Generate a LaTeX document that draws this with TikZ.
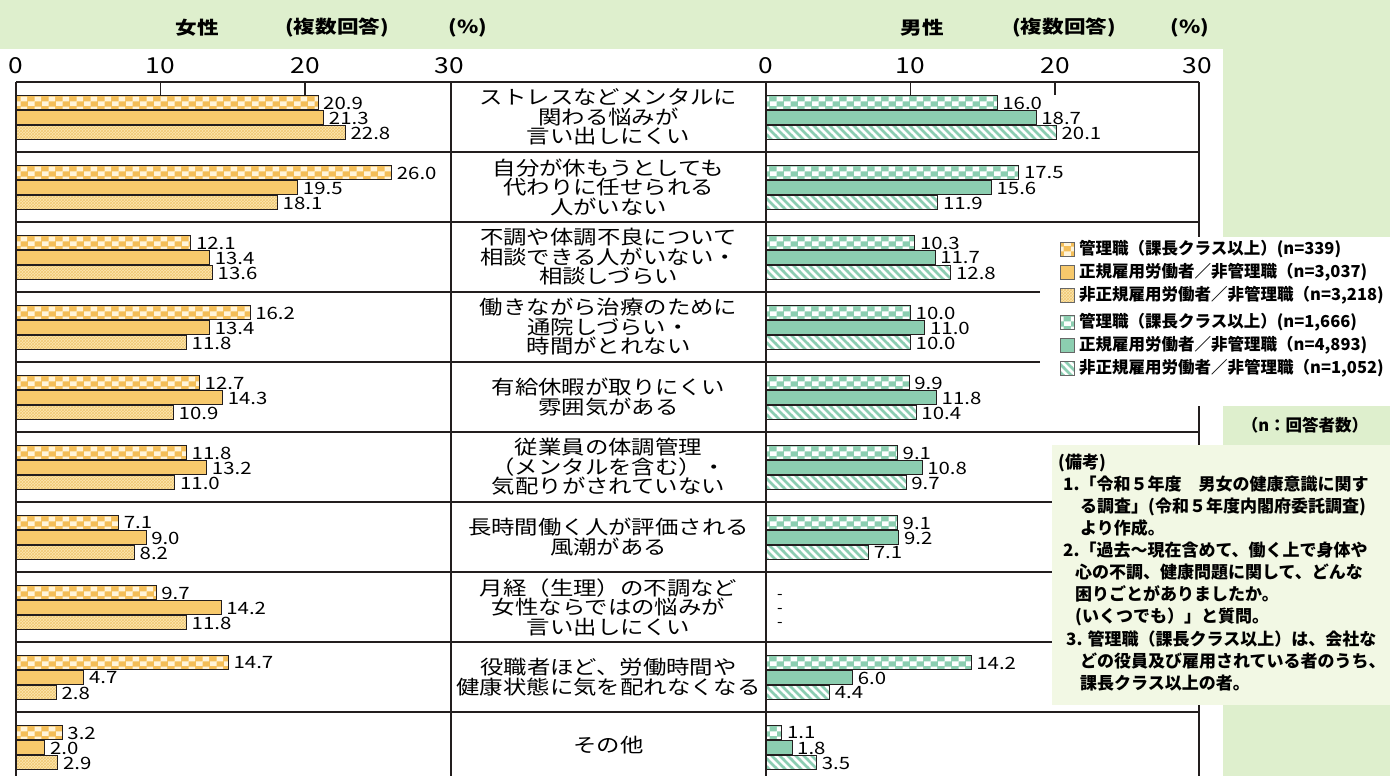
\documentclass[tikz,border=0pt]{standalone}
\usepackage{fontspec}
\setmainfont{Noto Sans CJK JP}
\newfontfamily\jpw[FakeStretch=1.2]{Noto Sans CJK JP}
\usetikzlibrary{patterns}

\definecolor{bgG}{RGB}{222,239,205}
\definecolor{noteG}{RGB}{242,248,228}
\definecolor{orS}{RGB}{247,201,108}
\definecolor{orC}{RGB}{244,190,88}
\definecolor{orW}{RGB}{255,244,218}
\definecolor{orL}{RGB}{252,230,175}
\definecolor{orH}{RGB}{240,200,115}
\definecolor{grS}{RGB}{140,206,176}
\definecolor{grC}{RGB}{140,206,176}
\definecolor{grH}{RGB}{140,205,178}
\definecolor{lineK}{RGB}{35,30,30}

\pgfdeclarepatternformonly{chkA}{\pgfqpoint{0pt}{0pt}}{\pgfqpoint{14pt}{10pt}}{\pgfqpoint{14pt}{10pt}}{%
  \pgfpathrectangle{\pgfqpoint{0pt}{0pt}}{\pgfqpoint{7pt}{5pt}}%
  \pgfpathrectangle{\pgfqpoint{7pt}{5pt}}{\pgfqpoint{7pt}{5pt}}%
  \pgfusepath{fill}}
\pgfdeclarepatternformonly{stripeNW}{\pgfqpoint{-1pt}{-1pt}}{\pgfqpoint{9pt}{9pt}}{\pgfqpoint{8pt}{8pt}}{%
  \pgfsetlinewidth{2.6pt}%
  \pgfpathmoveto{\pgfqpoint{-1pt}{9pt}}\pgfpathlineto{\pgfqpoint{9pt}{-1pt}}%
  \pgfusepath{stroke}}

\begin{document}
\begin{tikzpicture}[x=1pt,y=-1pt,
  boxline/.style={draw=lineK,line width=1.3pt},
  barFa/.style={draw=lineK,line width=1pt,preaction={fill=orC},pattern=chkA,pattern color=orW},
  barFb/.style={draw=lineK,line width=1pt,fill=orS},
  barFc/.style={draw=lineK,line width=1pt,preaction={fill=orL},pattern=crosshatch,pattern color=orH},
  barMa/.style={draw=lineK,line width=1pt,preaction={fill=grC},pattern=chkA,pattern color=white},
  barMb/.style={draw=lineK,line width=1pt,fill=grS},
  barMc/.style={draw=lineK,line width=1pt,preaction={fill=white},pattern=stripeNW,pattern color=grH},
  swatch/.style={line width=0.8pt,draw=black!60},
  vlab/.style={anchor=west,inner sep=0pt,xshift=5pt,font=\jpw\fontsize{17}{17}\selectfont},
  axlab/.style={inner sep=0pt,font=\jpw\fontsize{22}{22}\selectfont},
  hdr/.style={inner sep=0pt,font=\jpw\bfseries\fontsize{18}{18}\selectfont},
  cat/.style={align=center,inner sep=0pt,font=\jpw\fontsize{19.5}{19.5}\selectfont},
  leg/.style={anchor=west,inner sep=0pt,font=\bfseries\fontsize{16.5}{16.5}\selectfont},
  note/.style={anchor=base west,inner sep=0pt,font=\bfseries\fontsize{17}{17}\selectfont}
]
\useasboundingbox (0,0) rectangle (1390,776);
\fill[bgG] (0,0) rectangle (1390,776);
\fill[white] (0,49) rectangle (1223,776);

% headers
\node[hdr] (hF) at (197,28) {女性};
\node[hdr] (hFm) at (337,28) {(複数回答)};
\node[hdr] (hFp) at (468,28) {(\%)};
\node[hdr] (hM) at (922,28) {男性};
\node[hdr] (hMm) at (1064,28) {(複数回答)};
\node[hdr] (hMp) at (1190,28) {(\%)};

% axis labels
\foreach \k in {0,10,20,30}{
  \node[axlab] (axF\k) at ({16+14.45*\k},66) {\k};
}
\foreach \k in {0,10,20}{
  \node[axlab] (axM\k) at ({766+14.45*\k},66) {\k};
}
\node[axlab] (axM30) at (1197,66) {30};

% bars female
\foreach \i/\va/\vb/\vc in {1/20.9/21.3/22.8, 2/26.0/19.5/18.1, 3/12.1/13.4/13.6, 4/16.2/13.4/11.8, 5/12.7/14.3/10.9, 6/11.8/13.2/11.0, 7/7.1/9.0/8.2, 8/9.7/14.2/11.8, 9/14.7/4.7/2.8, 10/3.2/2.0/2.9}{
  \pgfmathsetmacro\rt{82+70*(\i-1)}
  \foreach \j/\v/\s in {1/\va/barFa, 2/\vb/barFb, 3/\vc/barFc}{
    \pgfmathsetmacro\ya{\rt+13+15*(\j-1)}
    \pgfmathsetmacro\yb{\ya+14}
    \pgfmathsetmacro\xe{16+14.45*\v}
    \draw[\s] (16,\ya) rectangle (\xe,\yb);
    \node[vlab] (fv-\i-\j) at (\xe,\ya+8) {\v};
  }
}
% bars male
\foreach \i/\va/\vb/\vc in {1/16.0/18.7/20.1, 2/17.5/15.6/11.9, 3/10.3/11.7/12.8, 4/10.0/11.0/10.0, 5/9.9/11.8/10.4, 6/9.1/10.8/9.7, 7/9.1/9.2/7.1, 9/14.2/6.0/4.4, 10/1.1/1.8/3.5}{
  \pgfmathsetmacro\rt{82+70*(\i-1)}
  \foreach \j/\v/\s in {1/\va/barMa, 2/\vb/barMb, 3/\vc/barMc}{
    \pgfmathsetmacro\ya{\rt+13+15*(\j-1)}
    \pgfmathsetmacro\yb{\ya+14}
    \pgfmathsetmacro\xe{766+14.45*\v}
    \draw[\s] (766,\ya) rectangle (\xe,\yb);
    \node[vlab] (mv-\i-\j) at (\xe,\ya+8) {\v};
  }
}
\node[inner sep=0pt,font=\fontsize{16}{16}\selectfont] (d1) at (780,597) {-};
\node[inner sep=0pt,font=\fontsize{16}{16}\selectfont] (d2) at (780,611) {-};
\node[inner sep=0pt,font=\fontsize{16}{16}\selectfont] (d3) at (780,625) {-};

% frame
\foreach \k in {1,...,10}{
  \draw[boxline] (16,{82+70*(\k-1)}) -- (1199,{82+70*(\k-1)});
}
\foreach \xx in {16,451,766,1199}{
  \draw[boxline] (\xx,82) -- (\xx,776);
}
\draw[boxline] (160.5,82) -- (160.5,95);
\draw[boxline] (305,82) -- (305,95);
\draw[boxline] (910.5,82) -- (910.5,95);
\draw[boxline] (1055,82) -- (1055,95);

% category labels
\node[cat] (c1) at (608.5,117) {ストレスなどメンタルに\\関わる悩みが\\言い出しにくい};
\node[cat] (c2) at (608.5,187) {自分が休もうとしても\\代わりに任せられる\\人がいない};
\node[cat] (c3) at (608.5,257) {不調や体調不良について\\相談できる人がいない・\\相談しづらい};
\node[cat] (c4) at (608.5,327) {働きながら治療のために\\通院しづらい・\\時間がとれない};
\node[cat] (c5) at (608.5,397) {有給休暇が取りにくい\\雰囲気がある};
\node[cat] (c6) at (608.5,467) {従業員の体調管理\\（メンタルを含む）・\\気配りがされていない};
\node[cat] (c7) at (608.5,537) {長時間働く人が評価される\\風潮がある};
\node[cat] (c8) at (608.5,607) {月経（生理）の不調など\\女性ならではの悩みが\\言い出しにくい};
\node[cat] (c9) at (608.5,677) {役職者ほど、労働時間や\\健康状態に気を配れなくなる};
\node[cat] (c10) at (608.5,745) {その他};

% legend panel
\fill[white] (1040,237) rectangle (1390,406);
\draw[swatch,preaction={fill=orC},pattern=chkA,pattern color=orW] (1060,242) rectangle ++(14,14);
\draw[swatch,fill=orS] (1060,265) rectangle ++(14,14);
\draw[swatch,preaction={fill=orL},pattern=crosshatch,pattern color=orH] (1060,288) rectangle ++(14,14);
\draw[swatch,preaction={fill=grC},pattern=chkA,pattern color=white] (1060,315) rectangle ++(14,14);
\draw[swatch,fill=grS] (1060,338) rectangle ++(14,14);
\draw[swatch,preaction={fill=white},pattern=stripeNW,pattern color=grH] (1060,361) rectangle ++(14,14);
\node[leg] (l1) at (1079,249) {管理職（課長クラス以上）(n=339)};
\node[leg] (l2) at (1079,272) {正規雇用労働者／非管理職（n=3,037)};
\node[leg] (l3) at (1079,295) {非正規雇用労働者／非管理職（n=3,218)};
\node[leg] (l4) at (1079,322) {管理職（課長クラス以上）(n=1,666)};
\node[leg] (l5) at (1079,345) {正規雇用労働者／非管理職（n=4,893)};
\node[leg] (l6) at (1079,368) {非正規雇用労働者／非管理職（n=1,052)};
\node[inner sep=0pt,font=\bfseries\fontsize{16.5}{16.5}\selectfont] (nn) at (1305,425) {（n：回答者数）};

% notes panel
\fill[noteG] (1052,445) rectangle (1390,705);
\node[note] (n0) at (1058,468) {(備考)};
\node[note] (n1) at (1063,490) {1.「令和５年度　男女の健康意識に関す};
\node[note] (n2) at (1080,512) {る調査」(令和５年度内閣府委託調査)};
\node[note] (n3) at (1080,534) {より作成。};
\node[note] (n4) at (1063,556) {2.「過去～現在含めて、働く上で身体や};
\node[note] (n5) at (1075,578) {心の不調、健康問題に関して、どんな};
\node[note] (n6) at (1075,600) {困りごとがありましたか。};
\node[note] (n7) at (1075,622) {(いくつでも）」と質問。};
\node[note] (n8) at (1066,645) {3. 管理職（課長クラス以上）は、会社な};
\node[note] (n9) at (1080,667) {どの役員及び雇用されている者のうち、};
\node[note] (n10) at (1080,689) {課長クラス以上の者。};
\end{tikzpicture}
\end{document}
